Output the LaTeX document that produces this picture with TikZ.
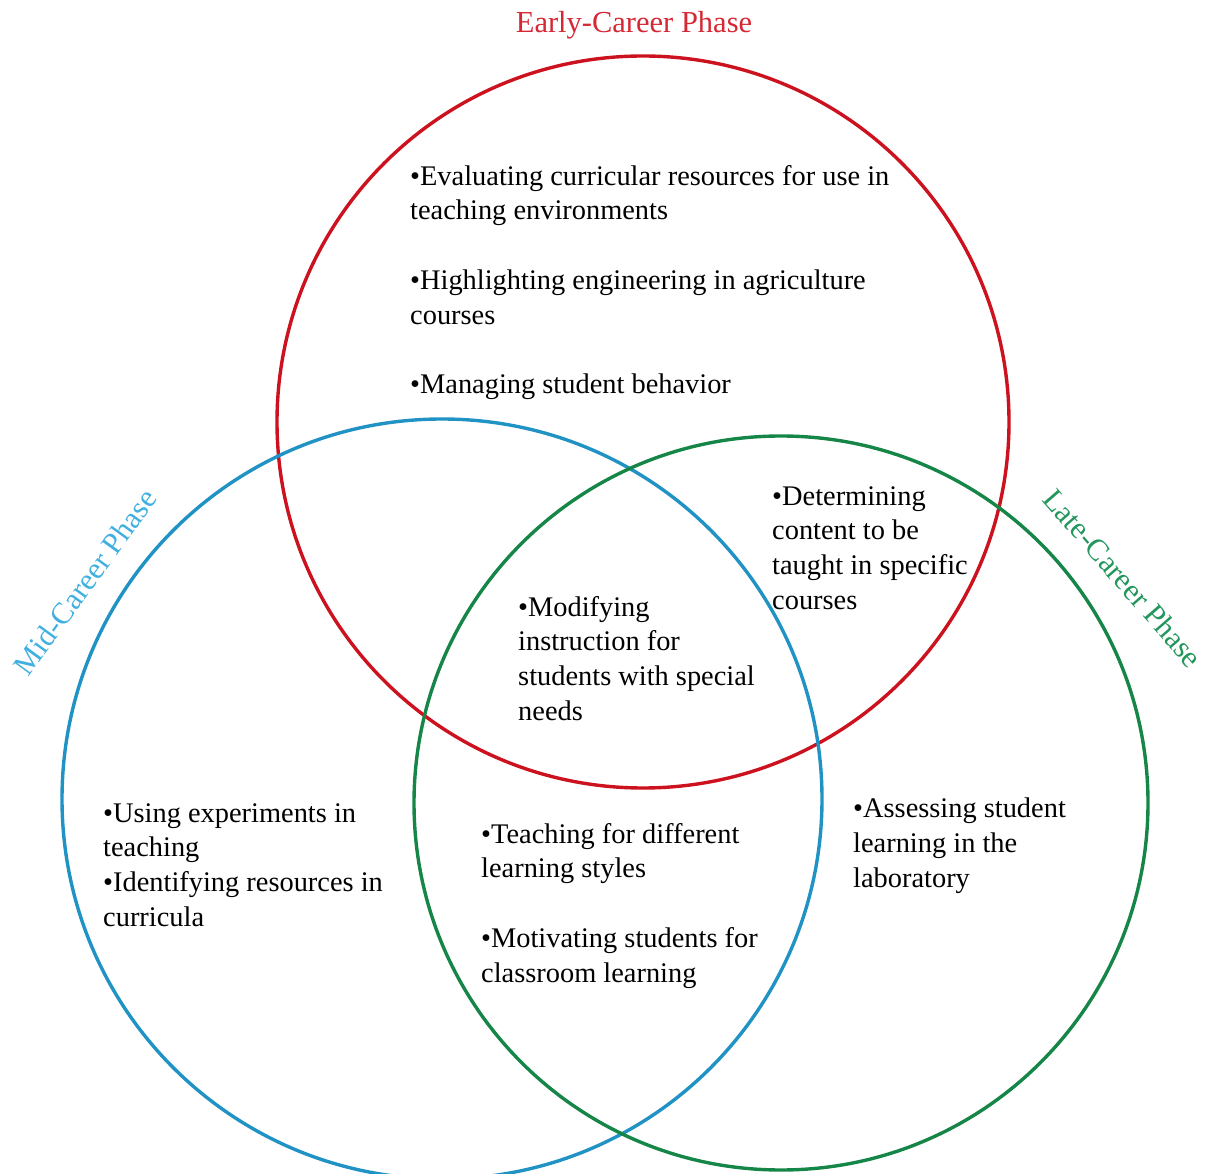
\documentclass[tikz,border=0pt]{standalone}
\usepackage{fontspec}
\setmainfont{Liberation Serif}
\usepackage{tikz}
\definecolor{earlyred}{RGB}{204,18,30}
\definecolor{midblue}{RGB}{32,146,196}
\definecolor{lategreen}{RGB}{22,134,72}
\definecolor{earlytext}{RGB}{214,40,52}
\definecolor{midtext}{RGB}{64,176,224}
\definecolor{latetext}{RGB}{34,150,92}

\begin{document}
\begin{tikzpicture}[x=1pt,y=1pt,
    every node/.style={font=\fontsize{28.4}{34.8}\selectfont,inner sep=0pt},
    item/.style={anchor=north west,align=left},
    phase/.style={font=\fontsize{30.5}{36}\selectfont},
    ring/.style={line width=3.4pt}]
  \useasboundingbox (0,0) rectangle (1206,1173);
  % the three phases
  \draw[ring,earlyred] (643,751) circle (366);
  \draw[ring,midblue] (442,374) circle (380);
  \draw[ring,lategreen] (781,370) circle (367);
  % phase titles
  \node[phase,anchor=base,earlytext] (tEarly) at (634,1140) {Early-Career Phase};
  \node[phase,midtext,rotate=54] (tMid) at (85,591) {Mid-Career Phase};
  \node[phase,latetext,rotate=-49] (tLate) at (1123,595) {Late-Career Phase};
  % items in each region
  \node[item] (early) at (410,1008) {\textbullet Evaluating curricular resources for use in\\
    teaching environments\\[34.8pt]
    \textbullet Highlighting engineering in agriculture\\
    courses\\[34.8pt]
    \textbullet Managing student behavior};
  \node[item] (earlyLate) at (772,687) {\textbullet Determining\\content to be\\
    taught in specific\\courses};
  \node[item] (allThree) at (518,577) {\textbullet Modifying\\instruction for\\
    students with special\\needs};
  \node[item] (mid) at (103,370) {\textbullet Using experiments in\\teaching\\
    \textbullet Identifying resources in\\curricula};
  \node[item] (midLate) at (481,350) {\textbullet Teaching for different\\learning styles\\[34.8pt]
    \textbullet Motivating students for\\classroom learning};
  \node[item] (late) at (853,375) {\textbullet Assessing student\\learning in the\\laboratory};
\end{tikzpicture}
\end{document}
